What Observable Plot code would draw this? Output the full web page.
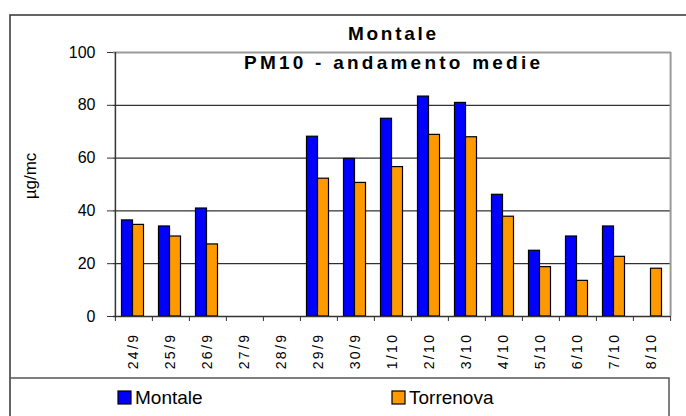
<!DOCTYPE html>
<html>
<head>
<meta charset="utf-8">
<script src="https://cdn.jsdelivr.net/npm/d3@7"></script>
<script src="https://cdn.jsdelivr.net/npm/@observablehq/plot@0.6"></script>
<style>
  html, body { margin: 0; padding: 0; background: #fff; }
  #chart { position: relative; width: 686px; height: 416px; overflow: hidden; }
  #chart svg { font-family: "Liberation Sans", Arial, sans-serif; }
</style>
</head>
<body>
<div id="chart"></div>
<script>
const dates = ["24/9","25/9","26/9","27/9","28/9","29/9","30/9","1/10","2/10","3/10","4/10","5/10","6/10","7/10","8/10"];
const montale = [36.4, 34.1, 40.9, null, null, 68.1, 59.7, 74.9, 83.3, 80.9, 46.1, 24.9, 30.3, 34.1, null];
const torrenova = [34.7, 30.3, 27.3, null, null, 52.2, 50.6, 56.6, 68.8, 67.9, 37.8, 18.7, 13.5, 22.6, 18.1];
const yTicks = [0, 20, 40, 60, 80, 100];
const gridValues = [20, 40, 60, 80];
const seriesNames = ["Montale", "Torrenova"];
const colors = ["#0000ff", "#ff9900"];
const titleText = "Montale";
const subtitleText = "PM10 - andamento medie";
const yLabel = "µg/mc";

const W = 686, H = 416;
const mL = 113, mR = 15, mT = 52, mB = 100;
const bw = (W - mL - mR) / dates.length;

const rowsM = dates.map((d, i) => ({date: d, value: montale[i]})).filter(r => r.value != null);
const rowsT = dates.map((d, i) => ({date: d, value: torrenova[i]})).filter(r => r.value != null);

const chart = Plot.plot({
  width: W, height: H,
  marginLeft: mL, marginRight: mR, marginTop: mT, marginBottom: mB,
  style: {fontFamily: "'Liberation Sans', Arial, sans-serif", fontSize: "14px", background: "transparent", color: "#000"},
  x: {type: "band", domain: dates, padding: 0, tickSize: 0, tickPadding: 16, tickRotate: -90, label: null},
  y: {domain: [0, 100], ticks: yTicks, tickSize: 6, tickPadding: 12, label: null},
  marks: [
    Plot.ruleY(gridValues, {stroke: "#000", strokeWidth: 1}),
    Plot.ruleY([100], {stroke: "#9a9a9a", strokeWidth: 2}),
    Plot.barY(rowsM, {x: "date", y: "value", fill: colors[0], stroke: "#000", strokeWidth: 1.2, insetLeft: 6.5, insetRight: 19.5}),
    Plot.barY(rowsT, {x: "date", y: "value", fill: colors[1], stroke: "#000", strokeWidth: 1.2, insetLeft: 17.5, insetRight: 8.5}),
    Plot.ruleY([0], {stroke: "#333", strokeWidth: 1.5}),
    Plot.ruleX(dates, {x: d => d, y1: 0, y2: 0, dx: -bw / 2, insetBottom: -5, stroke: "#333", strokeWidth: 1}),
    Plot.ruleX([dates[dates.length - 1]], {x: d => d, y1: 0, y2: 0, dx: bw / 2, insetBottom: -5, stroke: "#333", strokeWidth: 1}),
    Plot.ruleX([dates[0]], {x: d => d, dx: -bw / 2, stroke: "#333", strokeWidth: 1.5}),
    Plot.ruleX([dates[dates.length - 1]], {x: d => d, dx: bw / 2, stroke: "#9a9a9a", strokeWidth: 2})
  ]
});

document.getElementById("chart").appendChild(chart);
const svg = d3.select(chart);

// axis label fonts
svg.selectAll('g[aria-label^="y-axis"] text').style("font-size", "16px");
svg.selectAll('g[aria-label^="x-axis"] text').style("font-size", "14px").style("letter-spacing", "2.4px");
svg.selectAll('g[aria-label^="y-axis"] path, g[aria-label^="y-axis"] line').attr("stroke", "#333");

const deco = svg.append("g").attr("class", "deco");
// outer frame
deco.append("path").attr("d", `M10,${H} V15 H${W}`).attr("fill", "none").attr("stroke", "#333").attr("stroke-width", 1.5);
// legend box
deco.append("path").attr("d", `M10,378 H669 V${H}`).attr("fill", "none").attr("stroke", "#555").attr("stroke-width", 1.5);

// titles
deco.append("text").attr("x", 392).attr("y", 40).style("text-anchor", "middle")
  .style("font-size", "19px").style("font-weight", "bold").attr("textLength", 88).attr("lengthAdjust", "spacing").text(titleText);
deco.append("text").attr("x", 392).attr("y", 69).style("text-anchor", "middle")
  .style("font-size", "19px").style("font-weight", "bold").attr("textLength", 296).attr("lengthAdjust", "spacing").text(subtitleText);

// y label
deco.append("text").attr("transform", "translate(36,176) rotate(-90)").style("text-anchor", "middle")
  .style("font-size", "17px").text(yLabel);

// legend
const legX = [118, 392];
seriesNames.forEach((name, i) => {
  deco.append("rect").attr("x", legX[i]).attr("y", 391).attr("width", 13).attr("height", 13)
    .attr("fill", colors[i]).attr("stroke", "#000").attr("stroke-width", 1.2);
  deco.append("text").attr("x", legX[i] + 17).attr("y", 404).style("text-anchor", "start")
    .style("font-size", "19px").text(name);
});
</script>
</body>
</html>
